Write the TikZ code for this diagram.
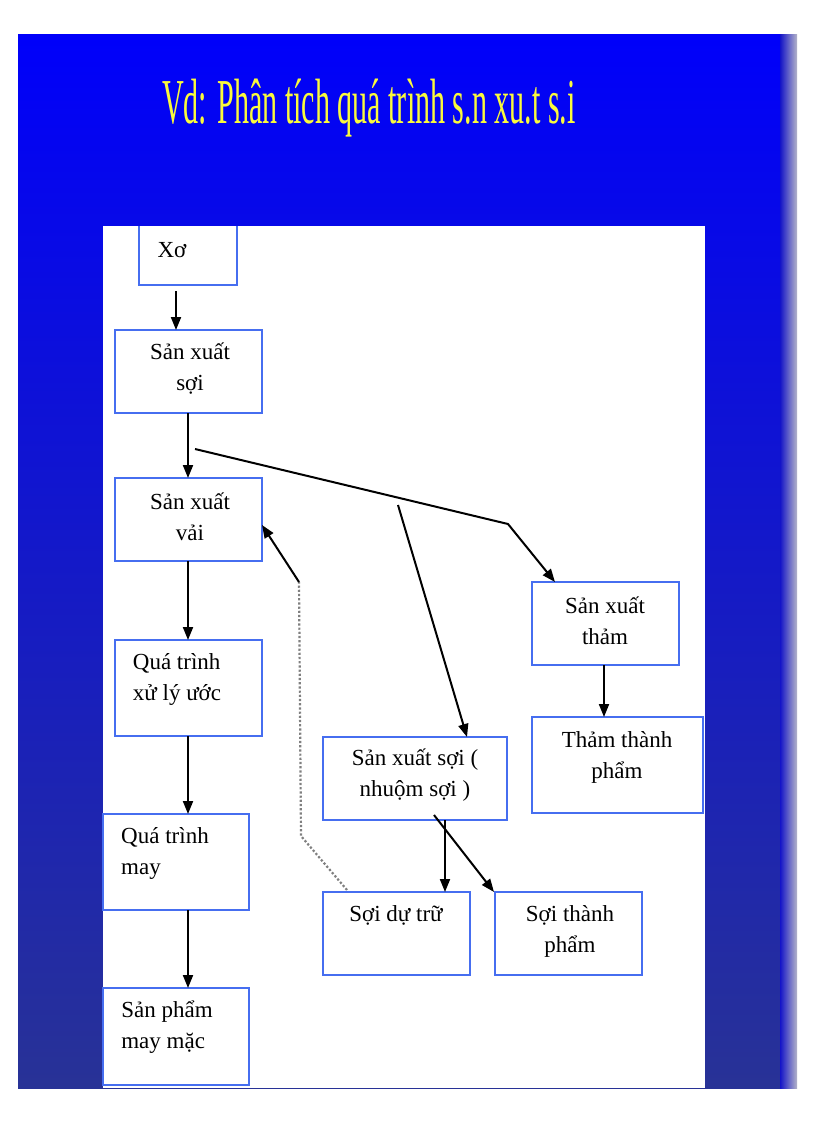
\documentclass[tikz,border=0pt]{standalone}
\usepackage{fontspec}
\setmainfont{Liberation Serif}
\usetikzlibrary{arrows.meta}
\begin{document}
\begin{tikzpicture}[x=1pt,y=-1pt,
  bx/.style={draw={rgb,255:red,70;green,110;blue,240},line width=1.5pt},
  tx/.style={font=\fontsize{23}{31}\selectfont,align=center,inner sep=0},
  ar/.style={line width=2pt,-{Triangle[length=13pt,width=10pt]}},
  dt/.style={line width=2.2pt,dotted,draw=gray}]
\useasboundingbox (0,0) rectangle (816,1123);
\fill[white] (0,0) rectangle (816,1123);
\shade[top color={rgb,255:red,0;green,0;blue,250},bottom color={rgb,255:red,40;green,50;blue,150}] (18,35) rectangle (795,1088);
\shade[left color={rgb,255:red,20;green,20;blue,200},right color={rgb,255:red,180;green,180;blue,200}] (780,35) rectangle (797,1088);
\node[text={rgb,255:red,250;green,250;blue,60},inner sep=0] (title) at (369,108) {\scalebox{0.47}[1]{\fontsize{64}{66}\selectfont Vd: Phân tích quá trình s.n xu.t s.i}};
\fill[white] (103,226) rectangle (705,1088);
% boxes
\draw[bx] (139,226) -- (139,285) -- (237,285) -- (237,226);
\node[tx] (xot) at (172,250) {Xơ};
\draw[bx] (115,330) rectangle (262,413);
\node[tx] (a) at (190,369) {Sản xuất\\ sợi};
\draw[bx] (115,478) rectangle (262,561);
\node[tx] (b) at (190,517) {Sản xuất\\ vải};
\draw[bx] (115,640) rectangle (262,736);
\node[tx,align=left] (c) at (177,679) {Quá trình\\xử lý ước};
\draw[bx] (103,814) rectangle (249,910);
\node[tx,align=left] (d) at (165,853) {Quá trình\\may};
\draw[bx] (103,988) rectangle (249,1085);
\node[tx,align=left] (e) at (167,1027) {Sản phẩm\\may mặc};
\draw[bx] (532,582) rectangle (679,665);
\node[tx] (f) at (605,621) {Sản xuất\\thảm};
\draw[bx] (532,717) rectangle (703,813);
\node[tx] (g) at (617,757) {Thảm thành\\phẩm};
\draw[bx] (323,737) rectangle (507,820);
\node[tx] (h) at (415,775) {Sản xuất sợi (\\ nhuộm sợi )};
\draw[bx] (323,892) rectangle (470,975);
\node[tx] (i) at (396,915) {Sợi dự trữ};
\draw[bx] (495,892) rectangle (642,975);
\node[tx] (j) at (570,931) {Sợi thành\\phẩm};
% arrows
\coordinate (p1) at (176,291); \coordinate (q1) at (176,330);
\draw[ar] (p1) -- (q1);
\coordinate (p2) at (188,413); \coordinate (q2) at (188,478);
\draw[ar] (p2) -- (q2);
\coordinate (p3) at (195,449); \coordinate (k3) at (508,524); \coordinate (q3) at (555,582);
\draw[ar] (p3) -- (k3) -- (q3);
\coordinate (p4) at (398,505); \coordinate (q4) at (467,737);
\draw[ar] (p4) -- (q4);
\coordinate (p5) at (188,561); \coordinate (q5) at (188,640);
\draw[ar] (p5) -- (q5);
\coordinate (p6) at (188,736); \coordinate (q6) at (188,814);
\draw[ar] (p6) -- (q6);
\coordinate (p7) at (188,910); \coordinate (q7) at (188,988);
\draw[ar] (p7) -- (q7);
\coordinate (p8) at (604,665); \coordinate (q8) at (604,717);
\draw[ar] (p8) -- (q8);
\coordinate (p9) at (445,820); \coordinate (q9) at (445,892);
\draw[ar] (p9) -- (q9);
\coordinate (p10) at (434,815); \coordinate (q10) at (494,892);
\draw[ar] (p10) -- (q10);
\coordinate (s1) at (347,890); \coordinate (s2) at (301,836); \coordinate (s3) at (299,582);
\draw[dt] (s1) -- (s2) -- (s3);
\coordinate (q11) at (262,525);
\draw[ar] (s3) -- (q11);
\end{tikzpicture}
\end{document}
